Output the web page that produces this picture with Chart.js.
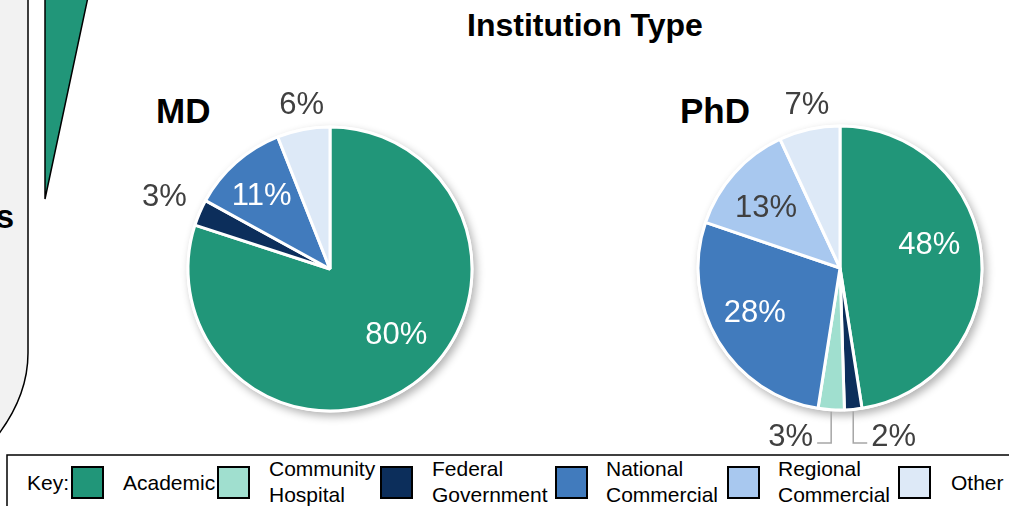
<!DOCTYPE html>
<html><head><meta charset="utf-8">
<script src="https://cdn.jsdelivr.net/npm/chart.js@4"></script>
<style>
html,body{margin:0;padding:0;width:1009px;height:506px;overflow:hidden;background:#fff;font-family:"Liberation Sans",Arial,sans-serif;}
#wrap{position:relative;width:1009px;height:506px;overflow:hidden;}
canvas{position:absolute;}
svg{position:absolute;left:0;top:0;}
svg text{font-family:"Liberation Sans",Arial,sans-serif;}
</style></head><body>
<div id="wrap">
<svg id="deco" width="1009" height="506">
  <path d="M -10 -10 L 28 -10 L 28 353 Q 28 398 -6 440 L -10 440 Z" fill="#f2f2f2" stroke="#000" stroke-width="1.5"/>
  <polygon points="45,-3 88,-3 45,199" fill="#219679" stroke="#000" stroke-width="1.5"/>
  <text x="14" y="228" font-size="33" font-weight="bold" text-anchor="end">s</text>
  <text x="585" y="36" font-size="32" font-weight="bold" text-anchor="middle">Institution Type</text>
  <text x="156" y="123" font-size="35" font-weight="bold">MD</text>
  <text x="680" y="123" font-size="35" font-weight="bold">PhD</text>
  <rect x="7" y="455" width="1100" height="100" fill="#fff" stroke="#000" stroke-width="1.5"/>
  <g id="legend"></g>
</svg>
<canvas id="md" width="440" height="400" style="left:110px;top:69px"></canvas>
<canvas id="phd" width="440" height="400" style="left:620px;top:68px"></canvas>
</div>
<script>
// ---- data ----
const sliceCategories = ["Academic","Federal Government","Community Hospital","National Commercial","Regional Commercial","Other"];
const mdValues  = [80, 3, 0, 11, 0, 6];
const phdValues = [48, 2, 3, 28, 13, 7];
const legendCategories = ["Academic","Community Hospital","Federal Government","National Commercial","Regional Commercial","Other"];
const legendLines = [["Academic"],["Community","Hospital"],["Federal","Government"],["National","Commercial"],["Regional","Commercial"],["Other"]];

// ---- style ----
const colorOf = {
  "Academic":"#219679",
  "Community Hospital":"#a0dfcf",
  "Federal Government":"#0c2e5b",
  "National Commercial":"#417bbd",
  "Regional Commercial":"#a8c8ef",
  "Other":"#dde9f7"
};
const GRAY = "#404040", WHITE = "#ffffff";
const mdPlace = [
  {f:0.66, da:-9, c:WHITE},
  {f:1.27, da:0, c:GRAY},
  null,
  {f:0.70, da:-2, c:WHITE},
  null,
  {f:1.17, da:1, c:GRAY}
];
const phdPlace = [
  {f:0.65, da:-10, c:WHITE},
  {leader:"right", c:GRAY},
  {leader:"left", c:GRAY},
  {f:0.68, da:3, c:WHITE},
  {f:0.67, da:-3, c:GRAY},
  {f:1.17, da:1, c:GRAY}
];

// legend
(function(){
  const g = document.getElementById('legend');
  const ns = 'http://www.w3.org/2000/svg';
  const swX = [72, 218, 381, 556, 728, 899];
  const txX = [123, 269, 432, 606, 778, 951];
  function t(x,y,s){const e=document.createElementNS(ns,'text');e.setAttribute('x',x);e.setAttribute('y',y);e.setAttribute('font-size','21');e.textContent=s;g.appendChild(e);}
  t(27,490,'Key:');
  legendCategories.forEach((c,i)=>{
    const r=document.createElementNS(ns,'rect');
    r.setAttribute('x',swX[i]);r.setAttribute('y',467);r.setAttribute('width',31);r.setAttribute('height',31);
    r.setAttribute('fill',colorOf[c]);r.setAttribute('stroke','#000');r.setAttribute('stroke-width','2');
    g.appendChild(r);
    const L=legendLines[i];
    if(L.length===1) t(txX[i],490,L[0]);
    else {t(txX[i],476,L[0]); t(txX[i],502,L[1]);}
  });
})();

const shadowPlugin = {
  id:'pieShadow',
  beforeDatasetsDraw(chart){
    const a = chart.getDatasetMeta(0).data[0];
    if(!a) return;
    const p = a.getProps(['x','y','outerRadius'], true);
    const ctx = chart.ctx;
    ctx.save();
    ctx.shadowColor = 'rgba(0,0,0,0.3)';
    ctx.shadowBlur = 9;
    ctx.shadowOffsetX = 3;
    ctx.shadowOffsetY = 4;
    ctx.fillStyle = '#fff';
    ctx.beginPath();
    ctx.arc(p.x, p.y, p.outerRadius + 1.5, 0, Math.PI*2);
    ctx.fill();
    ctx.restore();
  }
};

function labelPlugin(values, place){
  return {
    id:'pctLabels',
    afterDatasetsDraw(chart){
      const ctx = chart.ctx;
      const meta = chart.getDatasetMeta(0);
      ctx.save();
      ctx.font = '31px "Liberation Sans", Arial, sans-serif';
      ctx.textBaseline = 'middle';
      meta.data.forEach((arc,i)=>{
        const pl = place[i];
        if(!pl || !values[i]) return;
        const p = arc.getProps(['x','y','startAngle','endAngle','outerRadius'], true);
        const mid = (p.startAngle + p.endAngle)/2;
        const txt = values[i] + '%';
        ctx.fillStyle = pl.c;
        if(pl.leader){
          const ax = p.x + p.outerRadius*Math.cos(mid);
          const ay = p.y + p.outerRadius*Math.sin(mid) + 2;
          const by = p.y + p.outerRadius + 33;
          const dir = pl.leader === 'right' ? 1 : -1;
          ctx.strokeStyle = '#a6a6a6';
          ctx.lineWidth = 1.5;
          ctx.beginPath();
          ctx.moveTo(ax, ay); ctx.lineTo(ax, by); ctx.lineTo(ax + dir*14, by);
          ctx.stroke();
          ctx.textAlign = dir>0 ? 'left' : 'right';
          ctx.fillText(txt, ax + dir*18, by - 6);
        } else {
          const a = mid + pl.da*Math.PI/180;
          const r = p.outerRadius * pl.f;
          ctx.textAlign = 'center';
          ctx.fillText(txt, p.x + r*Math.cos(a), p.y + r*Math.sin(a));
        }
      });
      ctx.restore();
    }
  };
}

function makePie(id, values, place){
  new Chart(document.getElementById(id), {
    type:'pie',
    data:{
      labels: sliceCategories,
      datasets:[{
        data: values,
        backgroundColor: sliceCategories.map(c=>colorOf[c]),
        borderColor:'#ffffff',
        borderWidth:3
      }]
    },
    options:{
      responsive:false,
      animation:false,
      events:[],
      radius:142,
      layout:{padding:0},
      plugins:{legend:{display:false}, tooltip:{enabled:false}, title:{display:false}}
    },
    plugins:[shadowPlugin, labelPlugin(values, place)]
  });
}
makePie('md', mdValues, mdPlace);
makePie('phd', phdValues, phdPlace);
</script>
</body></html>
